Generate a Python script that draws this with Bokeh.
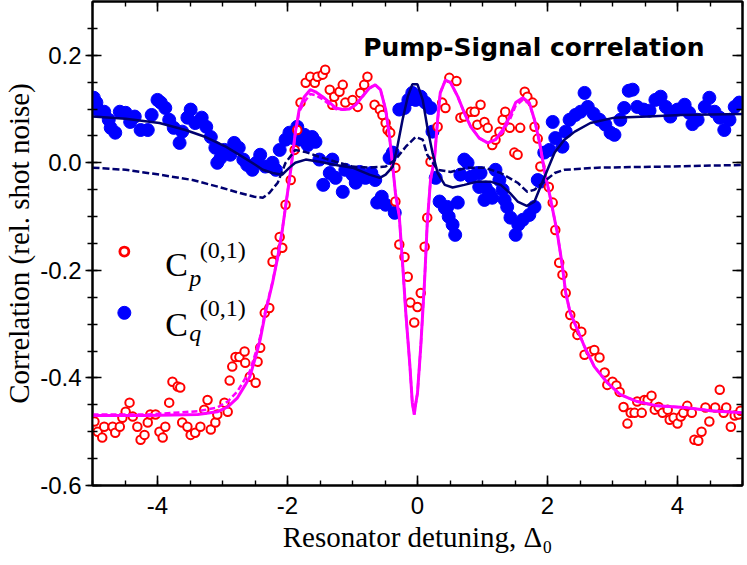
from bokeh.plotting import figure
from bokeh.models import LinearAxis, SingleIntervalTicker, PrintfTickFormatter
from bokeh.core.properties import value
from bokeh.embed import file_html
from bokeh.resources import INLINE

# ---------------- data ----------------
# C_q^(0,1) measured points (filled blue)
cq_x = [-4.98, -4.94, -4.92, -4.82, -4.75, -4.72, -4.65, -4.58, -4.49, -4.42,
        -4.35, -4.26, -4.15, -4.09, -4.00, -3.95, -3.88, -3.82, -3.75, -3.66,
        -3.62, -3.54, -3.49, -3.42, -3.32, -3.25, -3.18, -3.11, -3.08, -3.03,
        -2.97, -2.88, -2.82, -2.75, -2.68, -2.62, -2.54,
        -2.48, -2.42, -2.34, -2.23, -2.18, -2.12, -2.03, -1.97, -1.91, -1.85,
        -1.82, -1.74, -1.69, -1.62, -1.57, -1.51, -1.45, -1.35, -1.31, -1.26,
        -1.15, -1.11, -1.00, -0.95, -0.89, -0.80, -0.71, -0.65, -0.62, -0.55,
        -0.49, -0.43, -0.38, -0.35, -0.28, -0.20, -0.14, -0.08, -0.03, 0.05,
        0.12, 0.20, 0.23, 0.28, 0.34, 0.42, 0.46, 0.48, 0.54, 0.58,
        0.62, 0.66, 0.72, 0.77, 0.82, 0.92, 0.97, 0.95, 1.05, 1.03,
        1.11, 1.15, 1.20, 1.26, 1.31, 1.34, 1.38, 1.43, 1.51, 1.55,
        1.62, 1.72, 1.80, 1.85, 1.89, 1.95, 2.03, 2.08, 2.12, 2.23,
        2.28, 2.34, 2.43, 2.51, 2.57, 2.62, 2.71, 2.80, 2.89, 2.97,
        3.03, 3.12, 3.18, 3.25, 3.31, 3.38, 3.48, 3.57, 3.66, 3.74,
        3.82, 3.89, 4.00, 4.11, 4.18, 4.23, 4.31, 4.42, 4.49, 4.57,
        4.65, 4.72, 4.80, 4.88, 4.95]
cq_y = [0.121, 0.112, 0.099, 0.095, 0.080, 0.065, 0.056, 0.095, 0.093, 0.076,
        0.086, 0.061, 0.061, 0.089, 0.117, 0.112, 0.102, 0.080, 0.065, 0.037,
        0.058, 0.084, 0.099, 0.074, 0.084, 0.067, 0.048, 0.028, 0.000, 0.009,
        0.024, 0.015, 0.037, 0.028, 0.006, -0.004, -0.013,
        0.000, 0.015, -0.007, 0.000, -0.013, 0.024, 0.043, 0.056, 0.046, 0.067,
        0.043, 0.052, 0.033, 0.048, 0.039, 0.006, -0.041, -0.019, 0.006, -0.028,
        -0.054, -0.013, -0.022, -0.037, -0.017, -0.028, -0.019, -0.032, -0.074, -0.063,
        -0.078, 0.009, 0.019, -0.093, 0.099, 0.102, 0.117, 0.130, 0.117, 0.123,
        0.112, 0.102, 0.058, -0.028, -0.072, -0.084, -0.082, -0.100, -0.115, -0.134,
        -0.074, -0.022, 0.006, 0.000, -0.026, -0.019, -0.019, -0.045, -0.046, -0.069,
        -0.056, -0.065, -0.013, -0.032, -0.050, -0.069, -0.082, -0.102, -0.134, -0.115,
        -0.106, -0.097, -0.082, -0.032, -0.035, 0.019, 0.024, 0.076, 0.046, 0.030,
        0.058, 0.080, 0.089, 0.095, 0.130, 0.104, 0.091, 0.080, 0.071, 0.056,
        0.052, 0.080, 0.102, 0.134, 0.136, 0.104, 0.099, 0.097, 0.117, 0.123,
        0.104, 0.086, 0.099, 0.108, 0.093, 0.072, 0.080, 0.104, 0.121, 0.095,
        0.084, 0.061, 0.080, 0.104, 0.112]

# C_p^(0,1) measured points (open red)
cp_x = [-4.97, -4.92, -4.85, -4.82, -4.69, -4.65, -4.58, -4.54, -4.49, -4.43,
        -4.38, -4.31, -4.26, -4.20, -4.15, -4.11, -4.03, -3.97, -3.92, -3.88,
        -3.82, -3.77, -3.69, -3.65, -3.62, -3.54, -3.49, -3.42, -3.34, -3.28,
        -3.23, -3.18, -3.11, -3.08, -2.97, -2.92, -2.89, -2.85, -2.80, -2.74,
        -2.66, -2.65, -2.58, -2.49, -2.46, -2.42, -2.35, -2.28, -2.23, -2.18,
        -2.12, -2.08, -2.03, -1.95, -1.89, -1.85, -1.80, -1.72, -1.65, -1.58,
        -1.54, -1.46, -1.42, -1.35, -1.31, -1.28, -1.20, -1.15, -1.11, -1.00,
        -0.92, -0.88, -0.82, -0.77, -0.66, -0.58, -0.54, -0.49, -0.46, -0.42,
        -0.34, -0.34, -0.28, -0.20, -0.15, -0.11, -0.05, 0.00, 0.05, 0.11,
        0.15, 0.20, 0.31, 0.38, 0.43, 0.49, 0.60, 0.66, 0.72, 0.82,
        0.88, 0.92, 0.97, 1.03, 1.08, 1.15, 1.20, 1.26, 1.31, 1.35,
        1.42, 1.49, 1.54, 1.58, 1.65, 1.69, 1.77, 1.80, 1.85, 1.89,
        2.02, 2.08, 2.12, 2.18, 2.23, 2.28, 2.35, 2.42, 2.46, 2.52,
        2.57, 2.66, 2.72, 2.80, 2.88, 2.92, 3.00, 3.06, 3.11, 3.17,
        3.23, 3.28, 3.34, 3.38, 3.45, 3.49, 3.54, 3.60, 3.65, 3.71,
        3.77, 3.85, 3.88, 3.94, 4.00, 4.05, 4.09, 4.15, 4.22, 4.26,
        4.32, 4.37, 4.43, 4.49, 4.58, 4.65, 4.71, 4.75, 4.82, 4.88,
        4.94, 4.97]
cp_y = [-0.481, -0.500, -0.511, -0.491, -0.491, -0.502, -0.491, -0.474, -0.463, -0.446,
        -0.472, -0.491, -0.515, -0.506, -0.483, -0.468, -0.468, -0.500, -0.511, -0.491,
        -0.446, -0.407, -0.416, -0.418, -0.483, -0.491, -0.506, -0.502, -0.491, -0.459,
        -0.441, -0.496, -0.483, -0.468, -0.446, -0.463, -0.405, -0.379, -0.361, -0.361,
        -0.351, -0.372, -0.398, -0.409, -0.370, -0.344, -0.279, -0.270, -0.184, -0.167,
        -0.138, -0.158, -0.078, -0.032, 0.024, 0.061, 0.112, 0.149, 0.160, 0.149,
        0.160, 0.164, 0.173, 0.136, 0.108, 0.123, 0.132, 0.145, 0.112, 0.117,
        0.104, 0.130, 0.145, 0.160, 0.108, 0.099, 0.089, 0.074, 0.061, 0.056,
        -0.009, -0.072, -0.152, -0.175, -0.212, -0.260, -0.297, -0.268, -0.242, -0.156,
        -0.102, 0.002, 0.067, 0.112, 0.102, 0.158, 0.152, 0.084, 0.086, 0.095,
        0.095, 0.071, 0.108, 0.076, 0.065, 0.033, 0.043, 0.058, 0.080, 0.095,
        0.065, 0.019, 0.015, 0.065, 0.132, 0.123, 0.112, 0.067, 0.045, -0.007,
        -0.045, -0.074, -0.125, -0.186, -0.208, -0.242, -0.283, -0.303, -0.320, -0.314,
        -0.357, -0.351, -0.348, -0.362, -0.390, -0.413, -0.407, -0.414, -0.426, -0.454,
        -0.485, -0.465, -0.465, -0.444, -0.465, -0.441, -0.441, -0.433, -0.459, -0.454,
        -0.465, -0.459, -0.478, -0.474, -0.485, -0.472, -0.465, -0.452, -0.465, -0.515,
        -0.517, -0.500, -0.455, -0.481, -0.455, -0.422, -0.465, -0.455, -0.491, -0.470,
        -0.468, -0.461]

# theory curves for C_p (magenta solid and dashed)
cp_fit_x = [-5.0, -4.15, -3.38, -3.08, -2.92, -2.77, -2.65, -2.58, -2.49, -2.42,
            -2.34, -2.23, -2.15, -2.08, -2.03, -1.95, -1.88, -1.82, -1.74, -1.65,
            -1.57, -1.46, -1.35, -1.26, -1.15, -1.05, -0.95, -0.85, -0.74, -0.65,
            -0.57, -0.49, -0.43, -0.38, -0.34, -0.28, -0.23, -0.18, -0.12, -0.08,
            -0.05, -0.03, 0.0, 0.05, 0.11, 0.15, 0.20, 0.26, 0.31, 0.35,
            0.43, 0.51, 0.62, 0.72, 0.82, 0.95, 1.08, 1.20, 1.31, 1.42,
            1.51, 1.62, 1.72, 1.80, 1.88, 1.95, 2.05, 2.15, 2.23, 2.28,
            2.35, 2.46, 2.57, 2.72, 2.92, 3.12, 3.38, 3.69, 4.11, 4.51,
            5.0]
cp_fit_y = [-0.470, -0.470, -0.468, -0.463, -0.454, -0.437, -0.413, -0.398, -0.361, -0.329,
            -0.279, -0.223, -0.175, -0.125, -0.082, -0.013, 0.056, 0.099, 0.123, 0.136,
            0.132, 0.123, 0.112, 0.102, 0.099, 0.100, 0.108, 0.123, 0.139, 0.145,
            0.136, 0.099, 0.048, -0.007, -0.056, -0.100, -0.186, -0.279, -0.372, -0.446,
            -0.468, -0.450, -0.428, -0.342, -0.217, -0.112, -0.032, 0.006, 0.080, 0.130,
            0.154, 0.149, 0.123, 0.093, 0.067, 0.046, 0.037, 0.043, 0.061, 0.086,
            0.112, 0.121, 0.112, 0.080, 0.037, -0.013, -0.069, -0.130, -0.193, -0.242,
            -0.279, -0.310, -0.342, -0.379, -0.409, -0.431, -0.444, -0.452, -0.455, -0.461,
            -0.465]
cp_fit2_y = [-0.468, -0.468, -0.462, -0.455, -0.444, -0.425, -0.401, -0.388, -0.353, -0.323,
             -0.275, -0.221, -0.175, -0.125, -0.082, -0.013, 0.054, 0.095, 0.113, 0.128,
             0.126, 0.118, 0.108, 0.100, 0.099, 0.100, 0.108, 0.123, 0.139, 0.145,
             0.136, 0.099, 0.048, -0.007, -0.056, -0.100, -0.186, -0.279, -0.372, -0.446,
             -0.468, -0.450, -0.428, -0.342, -0.217, -0.112, -0.032, 0.006, 0.080, 0.130,
             0.154, 0.149, 0.123, 0.093, 0.067, 0.046, 0.037, 0.043, 0.057, 0.080,
             0.106, 0.117, 0.110, 0.080, 0.037, -0.013, -0.069, -0.130, -0.193, -0.242,
             -0.279, -0.310, -0.342, -0.379, -0.409, -0.431, -0.444, -0.452, -0.455, -0.461,
             -0.465]

# theory curves for C_q (navy solid and dashed)
cq_fit_x = [-5.00, -4.49, -3.97, -3.57, -3.26, -2.95, -2.69, -2.49, -2.38, -2.23,
            -2.08, -1.97, -1.88, -1.72, -1.51, -1.26, -1.00, -0.74, -0.58, -0.49,
            -0.38, -0.31, -0.23, -0.15, -0.08, 0.00, 0.08, 0.15, 0.23, 0.31,
            0.42, 0.54, 0.72, 0.92, 1.12, 1.28, 1.42, 1.54, 1.68, 1.80,
            1.89, 2.00, 2.11, 2.26, 2.42, 2.66, 3.03, 3.54, 4.05, 5.00]
cq_fit_y = [0.086, 0.082, 0.074, 0.061, 0.048, 0.030, 0.011, -0.004, -0.013, -0.019,
            -0.022, -0.009, 0.000, 0.006, 0.002, -0.004, -0.009, -0.022, -0.028, -0.022,
            -0.007, 0.030, 0.080, 0.123, 0.146, 0.146, 0.117, 0.067, 0.019, -0.019,
            -0.041, -0.046, -0.041, -0.035, -0.035, -0.041, -0.056, -0.072, -0.080, -0.072,
            -0.045, -0.013, 0.019, 0.043, 0.058, 0.074, 0.084, 0.086, 0.089, 0.091]
cq_fit2_x = [-5.00, -4.49, -3.97, -3.46, -3.05, -2.74, -2.51, -2.38, -2.28, -2.15,
             -2.03, -1.88, -1.72, -1.51, -1.26, -1.00, -0.74, -0.49, -0.34, -0.18,
             -0.03, 0.08, 0.15, 0.31, 0.51, 0.77, 1.03, 1.28, 1.54, 1.69,
             1.80, 1.95, 2.11, 2.26, 2.77, 3.80, 5.00]
cq_fit2_y = [-0.009, -0.013, -0.022, -0.032, -0.045, -0.056, -0.063, -0.065, -0.056, -0.037,
             0.000, 0.024, 0.020, 0.011, 0.002, -0.007, -0.009, -0.007, 0.006, 0.030,
             0.048, 0.043, 0.015, -0.013, -0.017, -0.009, -0.009, -0.019, -0.037, -0.054,
             -0.050, -0.035, -0.019, -0.013, -0.009, -0.007, -0.004]

x_tick_interval = 2
y_tick_interval = 0.2

# ---------------- figure ----------------
p = figure(frame_width=650, frame_height=484, x_range=(-5, 5), y_range=(-0.6001, 0.3),
           output_backend="svg", toolbar_location=None,
           min_border_left=87, min_border_right=2, min_border_top=1, min_border_bottom=75,
           background_fill_color="white", border_fill_color="white")
p.grid.visible = False
p.outline_line_color = "black"
p.outline_line_width = 2

TICK_FONT = "Liberation Sans"
LABEL_FONT = "Liberation Serif"

def style_axis(ax, labels=True, label_size="29px"):
    ax.axis_line_color = "black"
    ax.axis_line_width = 2
    ax.major_tick_line_color = "black"
    ax.major_tick_line_width = 1.6
    ax.minor_tick_line_color = "black"
    ax.minor_tick_line_width = 1.4
    if labels:
        ax.major_label_text_font = TICK_FONT
        ax.major_label_text_font_size = "24px"
        ax.major_label_text_color = "black"
        ax.axis_label_text_font = LABEL_FONT
        ax.axis_label_text_font_size = label_size
        ax.axis_label_text_font_style = "normal"
        ax.axis_label_text_color = "black"
    else:
        # tick marks only: the labels are not drawn at all
        ax.major_label_text_font_size = "1px"
        ax.major_label_text_color = None
        ax.major_label_standoff = 0

xb = p.xaxis[0]
xb.ticker = SingleIntervalTicker(interval=x_tick_interval, num_minor_ticks=4)
xb.formatter = PrintfTickFormatter(format="%d")
style_axis(xb, label_size="29px")
xb.major_tick_in = 10
xb.major_tick_out = 0
xb.minor_tick_in = 5
xb.minor_tick_out = 0
xb.major_label_standoff = 11
xb.axis_label = "Resonator detuning, Δ₀"
xb.axis_label_standoff = 4

yl = p.yaxis[0]
yl.ticker = SingleIntervalTicker(interval=y_tick_interval, num_minor_ticks=4)
yl.formatter = PrintfTickFormatter(format="%.1f")
style_axis(yl, label_size="29px")
yl.major_tick_in = 9
yl.major_tick_out = 7
yl.minor_tick_in = 5
yl.minor_tick_out = 5
yl.major_label_standoff = 4
yl.axis_label = "Correlation (rel. shot noise)"
yl.axis_label_standoff = 2

xt = LinearAxis(ticker=SingleIntervalTicker(interval=x_tick_interval, num_minor_ticks=4))
style_axis(xt, labels=False)
xt.major_tick_in = 10
xt.major_tick_out = 0
xt.minor_tick_in = 5
xt.minor_tick_out = 0
p.add_layout(xt, "above")

yr = LinearAxis(ticker=SingleIntervalTicker(interval=y_tick_interval, num_minor_ticks=4))
style_axis(yr, labels=False)
yr.major_tick_in = 10
yr.major_tick_out = 0
yr.minor_tick_in = 6
yr.minor_tick_out = 0
p.add_layout(yr, "right")

# ---------------- marks ----------------
p.scatter(cq_x, cq_y, marker="circle", size=13, fill_color="#0000ff", line_color="#0000ff")
p.scatter(cp_x, cp_y, marker="circle", size=8.5, fill_color="white", line_color="#ff0000", line_width=2)

p.line(cp_fit_x, cp_fit2_y, line_color="#ff00ff", line_width=2.5, line_dash="6 3")
p.line(cp_fit_x, cp_fit_y, line_color="#ff00ff", line_width=3)
p.line(cq_fit2_x, cq_fit2_y, line_color="#000070", line_width=2.5, line_dash="7 3")
p.line(cq_fit_x, cq_fit_y, line_color="#000070", line_width=2.5)

# ---------------- legend (hand-made, as in the original) ----------------
p.scatter([-4.51], [-0.165], marker="circle", size=9, fill_color="white", line_color="#ff0000", line_width=2.8)
p.scatter([-4.51], [-0.279], marker="circle", size=13, fill_color="#0000ff", line_color="#0000ff")

serif = value(LABEL_FONT)
p.text(x=[-3.88, -3.88], y=[-0.190, -0.301], text=["C", "C"], text_font=serif,
       text_font_size="34px", text_color="black", text_align="left", text_baseline="alphabetic")
p.text(x=[-3.35, -3.35], y=[-0.162, -0.270], text=["(0,1)", "(0,1)"], text_font=serif,
       text_font_size="24px", text_color="black", text_align="left", text_baseline="alphabetic")
p.text(x=[-3.51, -3.51], y=[-0.214, -0.316], text=["p", "q"], text_font=serif,
       text_font_style="italic", text_font_size="24px", text_color="black",
       text_align="left", text_baseline="alphabetic")

# title inside the plot
p.text(x=[1.79], y=[0.214], text=["Pump-Signal correlation"], text_font=value("DejaVu Sans"),
       text_font_style="bold", text_font_size="25px", text_color="black",
       text_align="center", text_baseline="alphabetic")

open("out.html", "w").write(file_html(p, INLINE))
